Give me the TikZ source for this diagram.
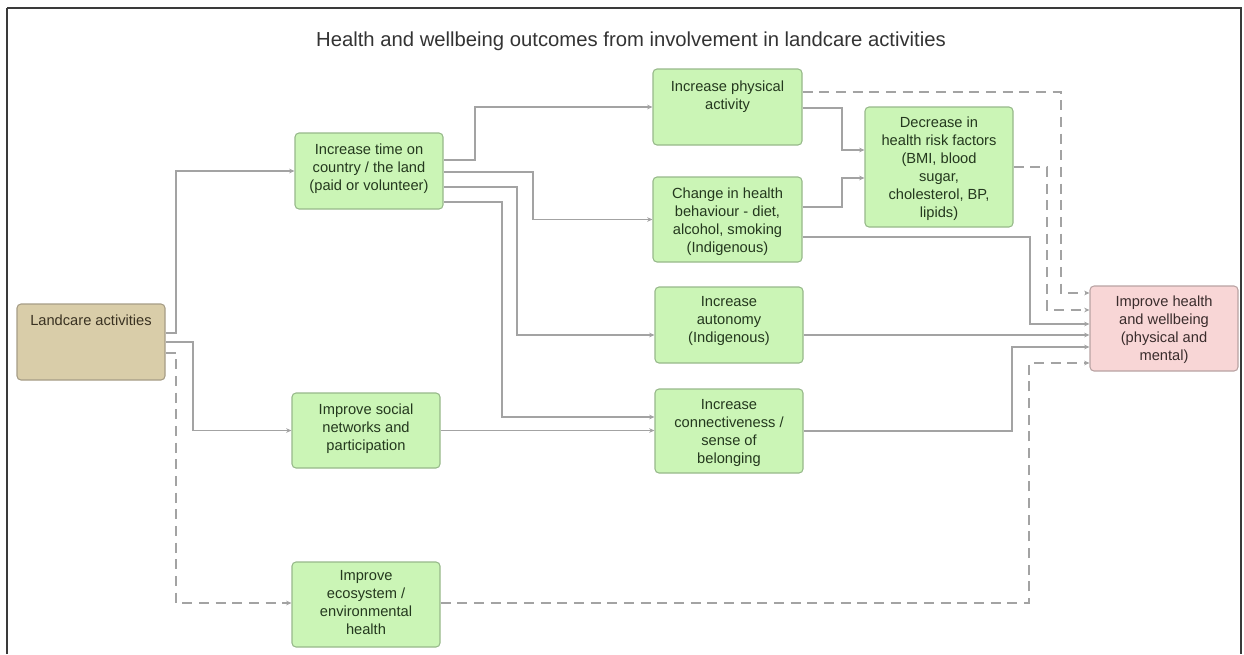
\documentclass[tikz,border=0pt]{standalone}
\usepackage{fontspec}
\setmainfont{Liberation Sans}
\usetikzlibrary{arrows.meta,calc}
\definecolor{gfill}{HTML}{CBF5B6}
\definecolor{gdraw}{HTML}{97B98A}
\definecolor{tfill}{HTML}{D9CDA9}
\definecolor{tdraw}{HTML}{A69D86}
\definecolor{pfill}{HTML}{F8D6D6}
\definecolor{pdraw}{HTML}{B9A3A3}
\definecolor{gtext}{HTML}{24381E}
\definecolor{ttext}{HTML}{3A3222}
\definecolor{ptext}{HTML}{3A2C2C}
\definecolor{lcol}{HTML}{A3A3A3}
\definecolor{fcol}{HTML}{3A3A3A}
\newcommand\mkbox[6]{\node[#6, minimum width={(#4-#2)*0.75pt}, minimum height={(#5-#3)*0.75pt}] (#1) at ({(#2+#4)/2},{(#3+#5)/2}) {};}
\tikzset{
  basebox/.style={draw, rounded corners=3pt, inner sep=0pt, line width=0.8pt},
  gbox/.style={basebox, fill=gfill, draw=gdraw},
  tbox/.style={basebox, fill=tfill, draw=tdraw},
  pbox/.style={basebox, fill=pfill, draw=pdraw},
  txt/.style={anchor=north, align=center, inner sep=0pt, font=\fontsize{11}{13.5}\selectfont, text=gtext},
  arr/.style={draw=lcol, line width=0.9pt, -{Stealth[length=4pt,width=3.5pt]}},
  darr/.style={arr, dash pattern=on 7.5pt off 5pt},
}
\begin{document}
\begin{tikzpicture}[x=0.75pt,y=-0.75pt]
\useasboundingbox (0,0) rectangle (1244,654);
% frame
\draw[fcol, line width=1.6pt] (7,654) -- (7,8);
\draw[fcol, line width=1.1pt] (7,8) -- (1241,8) -- (1241,654);
% title
\node[font=\fontsize{15.2}{18}\selectfont, text=black!80] (title) at (631,41) {Health and wellbeing outcomes from involvement in landcare activities};
% boxes
\mkbox{land}{17}{304}{165}{380}{tbox}
\mkbox{time}{295}{133}{443}{209}{gbox}
\mkbox{phys}{653}{69}{802}{145}{gbox}
\mkbox{chg}{653}{177}{802}{262}{gbox}
\mkbox{risk}{865}{107}{1013}{227}{gbox}
\mkbox{imp}{1090}{286}{1238}{371}{pbox}
\mkbox{auto}{655}{287}{803}{363}{gbox}
\mkbox{conn}{655}{389}{803}{473}{gbox}
\mkbox{social}{292}{393}{440}{468}{gbox}
\mkbox{eco}{292}{562}{440}{647}{gbox}
% texts
\node[txt, text=ttext] (landt) at ($(land.north)+(0,11)$) {Landcare activities};
\node[txt] (timet) at ($(time.north)+(0,11)$) {Increase time on\\country / the land\\(paid or volunteer)};
\node[txt] (physt) at ($(phys.north)+(0,12)$) {Increase physical\\activity};
\node[txt] (chgt) at ($(chg.north)+(0,11)$) {Change in health\\behaviour - diet,\\alcohol, smoking\\(Indigenous)};
\node[txt] (riskt) at ($(risk.north)+(0,10)$) {Decrease in\\health risk factors\\(BMI, blood\\sugar,\\cholesterol, BP,\\lipids)};
\node[txt, text=ptext] (impt) at ($(imp.north)+(0,10)$) {Improve health\\and wellbeing\\(physical and\\mental)};
\node[txt] (autot) at ($(auto.north)+(0,10)$) {Increase\\autonomy\\(Indigenous)};
\node[txt] (connt) at ($(conn.north)+(0,11)$) {Increase\\connectiveness /\\sense of\\belonging};
\node[txt] (socialt) at ($(social.north)+(0,11)$) {Improve social\\networks and\\participation};
\node[txt] (ecot) at ($(eco.north)+(0,9)$) {Improve\\ecosystem /\\environmental\\health};
% connectors
\draw[arr] (land.east |- 0,333) -- (176,333) |- (time.west);
\draw[arr] (land.east |- 0,342) -- (193,342) |- (social.west);
\draw[darr] (land.east |- 0,353) -- (176,353) |- (eco.west |- 0,603);
\draw[arr] (time.east |- 0,160) -- (475,160) |- (phys.west);
\draw[arr] (time.east |- 0,172) -- (533,172) |- (chg.west);
\draw[arr] (time.east |- 0,187) -- (517,187) |- (auto.west |- 0,335);
\draw[arr] (time.east |- 0,202) -- (502,202) |- (conn.west |- 0,417);
\draw[arr] (social.east) -- (conn.west |- social.east);
\draw[arr] (phys.east |- 0,108) -- (842,108) |- (risk.west |- 0,150);
\draw[arr] (chg.east |- 0,207) -- (842,207) |- (risk.west |- 0,178);
\draw[darr] (phys.east |- 0,92) -- (1061,92) |- (imp.west |- 0,293);
\draw[darr] (risk.east |- 0,167) -- (1047,167) |- (imp.west |- 0,310);
\draw[arr] (chg.east |- 0,237) -- (1030,237) |- (imp.west |- 0,324);
\draw[arr] (auto.east |- 0,335) -- (imp.west |- 0,335);
\draw[arr] (conn.east |- 0,431) -- (1012,431) |- (imp.west |- 0,347);
\draw[darr] (eco.east |- 0,603) -- (1029,603) |- (imp.west |- 0,363);
\end{tikzpicture}
\end{document}
